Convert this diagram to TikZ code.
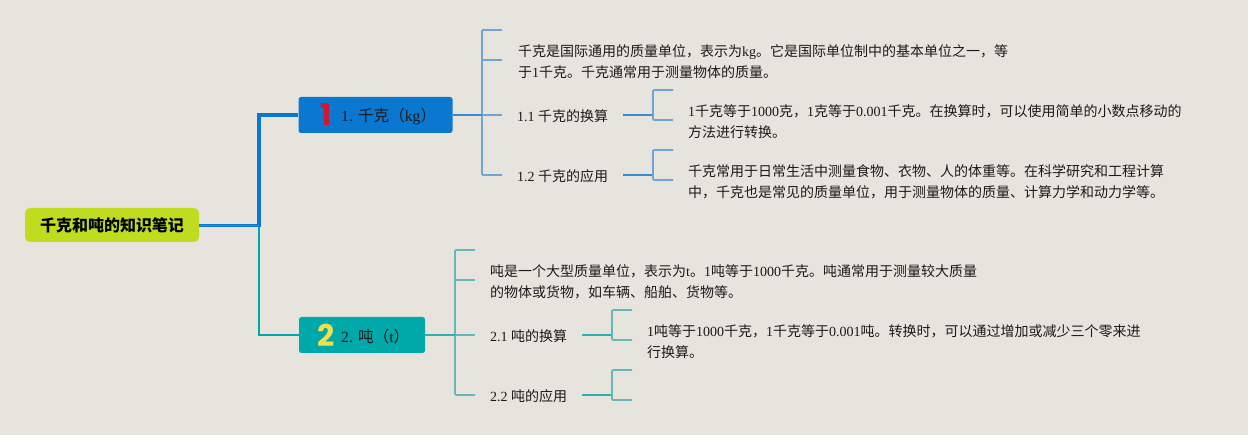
\documentclass[tikz,border=0pt]{standalone}
\usepackage{fontspec}
\setmainfont{Liberation Serif}
\newfontfamily\cjkfam{Noto Sans CJK SC}
\newfontfamily\iconfam{Poppins}
\newcommand{\cj}[1]{{\cjkfam #1}}
\definecolor{bgc}{HTML}{E6E4DC}
\definecolor{rootc}{HTML}{BFDC20}
\definecolor{bluec}{HTML}{0A78D0}
\definecolor{tealc}{HTML}{00A9A9}
\definecolor{bluel}{HTML}{6CA6D6}
\definecolor{teall}{HTML}{64B8BA}
\definecolor{bluem}{HTML}{3A8CD2}
\definecolor{tealm}{HTML}{2DB0B0}
\definecolor{txt}{HTML}{1A1A1A}
\tikzset{
  rootbox/.style={fill=rootc,rounded corners=5pt,minimum width=174pt,minimum height=34pt,inner sep=0pt,font=\fontsize{16}{18}\selectfont\bfseries,text=black},
  topicbox/.style={rounded corners=2.5pt,minimum height=36pt,inner sep=0pt,text=txt},
  body/.style={anchor=west,align=left,inner sep=0pt,text=txt,font=\fontsize{14}{20.8}\selectfont},
  lab/.style={anchor=west,inner sep=0pt,text=txt,font=\fontsize{14}{17}\selectfont},
  toplab/.style={anchor=west,inner sep=0pt,text=txt,font=\fontsize{15.6}{18}\selectfont},
  icon/.style={inner sep=0pt,font=\iconfam\fontsize{30}{30}\selectfont\bfseries},
  branchA/.style={draw=bluel,line width=1.6pt,rounded corners=1pt},
  branchB/.style={draw=teall,line width=1.6pt,rounded corners=1pt},
  stubA/.style={draw=bluem,line width=2pt},
  stubB/.style={draw=tealm,line width=2pt}
}
\begin{document}
\begin{tikzpicture}[x=1pt,y=-1pt]
\path[fill=bgc] (0,0) rectangle (1248,435);
\useasboundingbox (0,0) rectangle (1248,435);
\node[rootbox] (root) at (112,225) {\raisebox{-0.8pt}{\cj{千克和吨的知识笔记}}};
\node[topicbox,fill=bluec,minimum width=154pt] (t1) at (375.5,115) {};
\node[topicbox,fill=tealc,minimum width=126pt] (t2) at (362,335) {};
\node[icon,text={rgb,255:red,204;green,24;blue,52}] (i1) at (326.5,115) {1};
\node[icon,text={rgb,255:red,240;green,224;blue,80}] (i2) at (326,335.5) {2};
\node[toplab] (l1) at (341,117) {1. \cj{千克（}kg\cj{）}};
\node[toplab] (l2) at (341,337) {2. \cj{吨（}t\cj{）}};
% root connectors
\coordinate (rs) at (199,225.5);
\draw[tealc,line width=2pt] (rs) -- (259,225.5) -- (259,335) -- (t2.west);
\draw[bluec,line width=3.5pt] (rs) -- (259,225.5) -- (259,115) -- (t1.west);
\draw[tealc,line width=1.2pt] (rs) -- (260,225.5);
% text nodes
\node[body] (a0) at (518,61.5) {\cj{千克是国际通用的质量单位，表示为}kg\cj{。它是国际单位制中的基本单位之一，等}\\\cj{于}1\cj{千克。千克通常用于测量物体的质量。}};
\node[lab] (a1) at (517,116) {1.1 \cj{千克的换算}};
\node[lab] (a2) at (517,176) {1.2 \cj{千克的应用}};
\node[body] (a11) at (688,121.5) {1\cj{千克等于}1000\cj{克，}1\cj{克等于}0.001\cj{千克。在换算时，可以使用简单的小数点移动的}\\\cj{方法进行转换。}};
\node[body] (a21) at (688,181.5) {\cj{千克常用于日常生活中测量食物、衣物、人的体重等。在科学研究和工程计算}\\\cj{中，千克也是常见的质量单位，用于测量物体的质量、计算力学和动力学等。}};
\node[body] (b0) at (490,281.5) {\cj{吨是一个大型质量单位，表示为}t\cj{。}1\cj{吨等于}1000\cj{千克。吨通常用于测量较大质量}\\\cj{的物体或货物，如车辆、船舶、货物等。}};
\node[lab] (b1) at (490,336) {2.1 \cj{吨的换算}};
\node[lab] (b2) at (490,396) {2.2 \cj{吨的应用}};
\node[body] (b11) at (647,341.5) {1\cj{吨等于}1000\cj{千克，}1\cj{千克等于}0.001\cj{吨。转换时，可以通过增加或减少三个零来进}\\\cj{行换算。}};
% topic 1 branches
\draw[branchA] (502,30) -- (482,30) -- (482,175) -- (502,175);
\draw[branchA] (482,60) -- (502,60);
\draw[branchA] (482,115) -- (502,115);
\draw[stubA] (t1.east) -- (482,115);
\draw[stubA] (623,115) -- (653,115);
\draw[branchA] (673,90) -- (653,90) -- (653,120) -- (673,120);
\draw[stubA] (623,175) -- (653,175);
\draw[branchA] (673,150) -- (653,150) -- (653,180) -- (673,180);
% topic 2 branches
\draw[branchB] (475,250) -- (455,250) -- (455,395) -- (475,395);
\draw[branchB] (455,280) -- (475,280);
\draw[branchB] (455,335) -- (475,335);
\draw[stubB] (t2.east) -- (455,335);
\draw[stubB] (582,335) -- (612,335);
\draw[branchB] (632,310) -- (612,310) -- (612,340) -- (632,340);
\draw[stubB] (582,395) -- (612,395);
\draw[branchB] (632,370) -- (612,370) -- (612,400) -- (632,400);
\end{tikzpicture}
\end{document}
